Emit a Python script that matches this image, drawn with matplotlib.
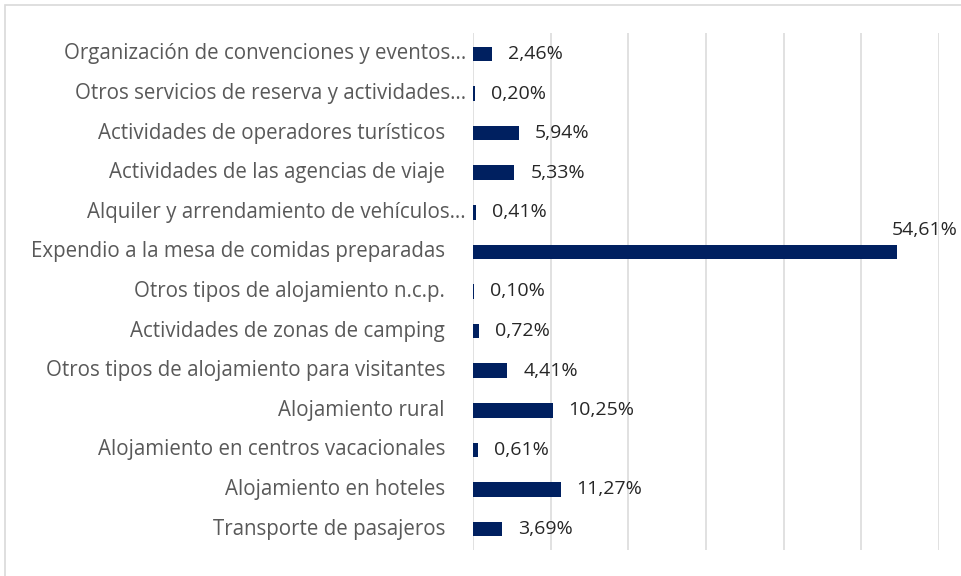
import matplotlib
matplotlib.use("Agg")
import matplotlib.pyplot as plt
from matplotlib.patches import Rectangle

categories = [
    "Organización de convenciones y eventos…",
    "Otros servicios de reserva y actividades…",
    "Actividades de operadores turísticos",
    "Actividades de las agencias de viaje",
    "Alquiler y arrendamiento de vehículos…",
    "Expendio a la mesa de comidas preparadas",
    "Otros tipos de alojamiento n.c.p.",
    "Actividades de zonas de camping",
    "Otros tipos de alojamiento para visitantes",
    "Alojamiento rural",
    "Alojamiento en centros vacacionales",
    "Alojamiento en hoteles",
    "Transporte de pasajeros",
]
values = [2.46, 0.20, 5.94, 5.33, 0.41, 54.61, 0.10, 0.72, 4.41, 10.25, 0.61, 11.27, 3.69]
value_labels = ["2,46%", "0,20%", "5,94%", "5,33%", "0,41%", "54,61%", "0,10%",
                "0,72%", "4,41%", "10,25%", "0,61%", "11,27%", "3,69%"]

FONT = "Open Sans"
FS_CAT = 14.8
FS_VAL = 14.0
BAR = "#002060"
GRID = "#d9d9d9"

fig = plt.figure(figsize=(9.61, 5.76), dpi=100)
fig.patch.set_facecolor("white")
# outer chart border (light gray)
fig.add_artist(Rectangle((5 / 961, -0.1), 1.2, 1 - 5 / 576 + 0.1,
                         transform=fig.transFigure, fill=False,
                         edgecolor=GRID, linewidth=1.2))

ax = fig.add_axes([473 / 961, 1 - 550 / 576, (939 - 473) / 961, (550 - 33) / 576])
n = len(categories)
ypos = list(range(n))
ax.barh(ypos, values, height=0.37, color=BAR)
ax.set_xlim(0, 60)
ax.set_ylim(n - 0.47, -0.53)
ax.set_xticks(range(0, 61, 10))
ax.xaxis.grid(True, color=GRID, linewidth=1.1)
ax.set_axisbelow(True)
ax.tick_params(axis="x", length=0, labelbottom=False)
ax.set_yticks([])
for s in ax.spines.values():
    s.set_visible(False)

for y, cat in zip(ypos, categories):
    pad = -7 if cat.endswith("…") else -28
    ax.annotate(cat, xy=(0, y), xytext=(pad * 0.72, 0), textcoords="offset points",
                ha="right", va="center", fontsize=FS_CAT, family=FONT, color="#595959")

for y, v, lab in zip(ypos, values, value_labels):
    if v > 40:
        ax.annotate(lab, xy=(v, y), xytext=(-4, 9), textcoords="offset points",
                    ha="left", va="bottom", fontsize=FS_VAL, family=FONT, color="#262626")
    else:
        ax.annotate(lab, xy=(v, y), xytext=(11.5, 0), textcoords="offset points",
                    ha="left", va="center", fontsize=FS_VAL, family=FONT, color="#262626")

fig.savefig("out.png", dpi=100)
